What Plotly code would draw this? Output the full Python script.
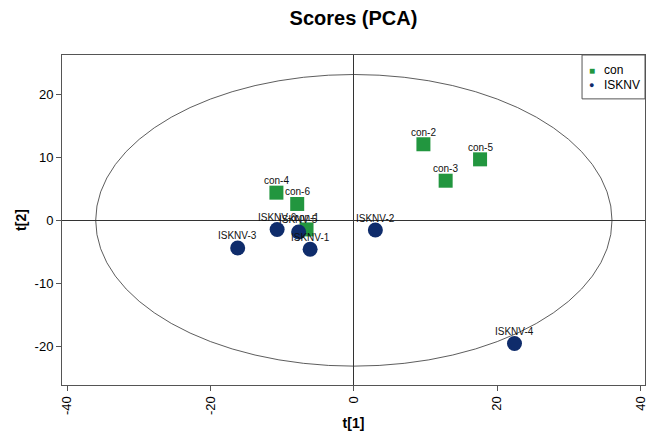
import plotly.graph_objects as go

con_labels = ["con-1", "con-2", "con-3", "con-4", "con-5", "con-6"]
con_t1 = [-6.6, 9.7, 12.8, -10.8, 17.6, -7.9]
con_t2 = [-1.45, 12.1, 6.3, 4.4, 9.7, 2.6]

isk_labels = ["ISKNV-1", "ISKNV-2", "ISKNV-3", "ISKNV-4", "ISKNV-5", "ISKNV-6"]
isk_t1 = [-6.1, 3.0, -16.2, 22.4, -7.7, -10.7]
isk_t2 = [-4.6, -1.55, -4.4, -19.6, -1.85, -1.45]

x_ticks = [-40, -20, 0, 20, 40]
y_ticks = [-20, -10, 0, 10, 20]

ellipse_a = 36.0
ellipse_b = 23.2

GREEN = "#22963f"
NAVY = "#0f2c6b"
FONT = "Liberation Sans"

fig = go.Figure()
fig.add_shape(type="circle", xref="x", yref="y", x0=-ellipse_a, x1=ellipse_a,
              y0=-ellipse_b, y1=ellipse_b, line=dict(color="#333333", width=0.8),
              layer="below")

fig.add_trace(go.Scatter(x=con_t1, y=con_t2, mode="markers",
                         marker=dict(symbol="square", size=14, color=GREEN, line=dict(width=0)),
                         showlegend=False, cliponaxis=False))
fig.add_trace(go.Scatter(x=isk_t1, y=isk_t2, mode="markers",
                         marker=dict(symbol="circle", size=15, color=NAVY, line=dict(width=0)),
                         showlegend=False, cliponaxis=False))

for xs, ys, labs in [(con_t1, con_t2, con_labels), (isk_t1, isk_t2, isk_labels)]:
    for xv, yv, lab in zip(xs, ys, labs):
        fig.add_annotation(x=xv, y=yv, text=lab, showarrow=False, yshift=12,
                           font=dict(size=10, color="#111", family=FONT))

# legend box (manual, to match the compact reference legend)
fig.add_shape(type="rect", xref="paper", yref="paper", x0=0.892, x1=1.0, y0=0.867, y1=1.0,
              line=dict(color="#555", width=1), fillcolor="white", layer="above")
fig.add_annotation(xref="paper", yref="paper", x=0.909, y=0.9545, text="■", showarrow=False,
                   font=dict(size=10, color=GREEN), xanchor="center", yanchor="middle")
fig.add_annotation(xref="paper", yref="paper", x=0.909, y=0.909, text="●", showarrow=False,
                   font=dict(size=9, color=NAVY), xanchor="center", yanchor="middle")
fig.add_annotation(xref="paper", yref="paper", x=0.926, y=0.9545, text="con", showarrow=False,
                   font=dict(size=12, color="#000", family=FONT), xanchor="left", yanchor="middle")
fig.add_annotation(xref="paper", yref="paper", x=0.926, y=0.909, text="ISKNV", showarrow=False,
                   font=dict(size=12, color="#000", family=FONT), xanchor="left", yanchor="middle")

fig.update_layout(
    width=657, height=434,
    margin=dict(l=54, r=20, t=47, b=57, autoexpand=False),
    paper_bgcolor="white", plot_bgcolor="white",
    font=dict(family=FONT, size=13, color="#000"),
    title=dict(text="<b>Scores (PCA)</b>", x=0.5, xref="paper", xanchor="center",
               y=1 - 10 / 434, yanchor="middle", font=dict(size=20, family=FONT)),
    showlegend=False,
)
fig.update_xaxes(range=[-40.7, 40.6], tickvals=x_ticks, ticktext=[str(v) for v in x_ticks],
                 tickangle=-90,
                 ticks="outside", ticklen=5, tickcolor="#555", showgrid=False,
                 showline=True, linecolor="#555", linewidth=1, mirror=True,
                 zeroline=True, zerolinecolor="#333", zerolinewidth=1,
                 title=dict(text="<b>t[1]</b>", font=dict(size=14), standoff=4),
                 tickfont=dict(size=13), automargin=False)
fig.update_yaxes(range=[-26.2, 26.3], tickvals=y_ticks, ticktext=[str(v) for v in y_ticks],
                 ticks="outside", ticklen=5, tickcolor="#555", showgrid=False,
                 showline=True, linecolor="#555", linewidth=1, mirror=True,
                 zeroline=True, zerolinecolor="#333", zerolinewidth=1,
                 title=dict(text="<b>t[2]</b>", font=dict(size=14), standoff=4),
                 tickfont=dict(size=13), automargin=False)

fig.write_html("out.html")
